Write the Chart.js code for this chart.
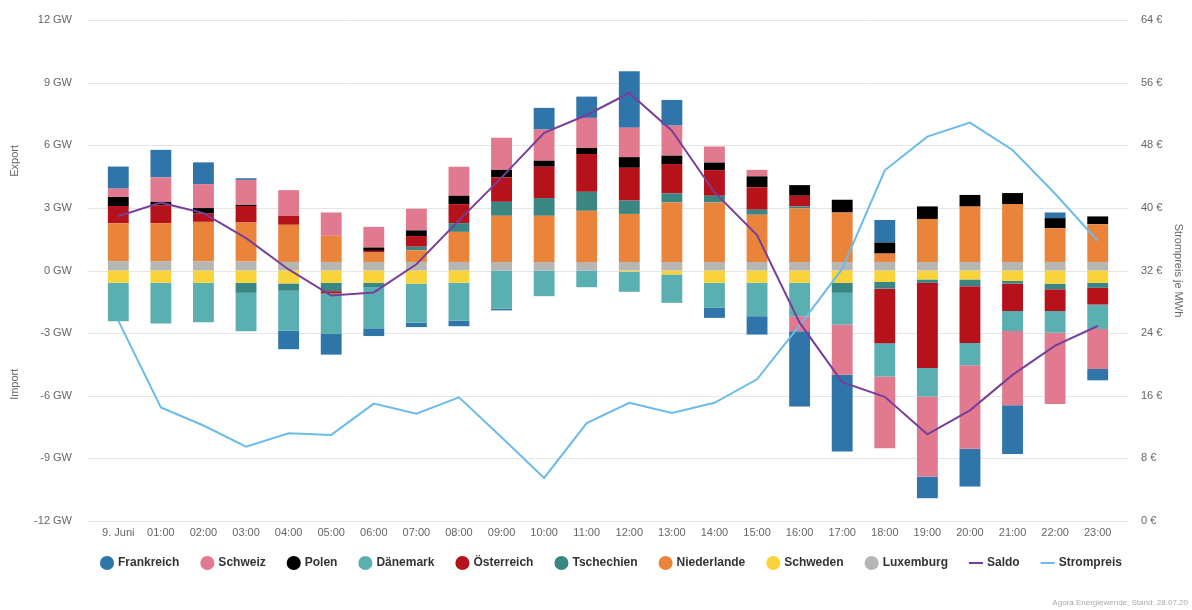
<!DOCTYPE html>
<html><head><meta charset="utf-8">
<script src="https://cdn.jsdelivr.net/npm/chart.js@4/dist/chart.umd.min.js"></script>
<style>html,body{margin:0;padding:0;background:#fff}#wrap{position:relative;width:1192px;height:610px}</style>
</head><body><div id="wrap"><canvas id="c" width="1192" height="610"></canvas></div>
<script>
const categories = ['9. Juni','01:00','02:00','03:00','04:00','05:00','06:00','07:00','08:00','09:00','10:00','11:00','12:00','13:00','14:00','15:00','16:00','17:00','18:00','19:00','20:00','21:00','22:00','23:00'];

const frankreich  = [1.06,1.32,1.04,0.08,-0.88,-0.99,-0.37,-0.21,-0.27,-0.08,1.04,1.02,2.7,1.23,-0.48,-0.88,-3.6,-3.68,1.08,-1.04,-1.81,-2.34,0.27,-0.54];
const schweiz     = [0.4,1.17,1.15,1.2,1.23,1.12,0.99,1.04,1.39,1.54,1.49,1.44,1.41,1.44,0.77,0.31,-0.72,-2.4,-3.44,-3.84,-4.0,-3.55,-3.41,-1.92];
const polen       = [0.43,0.16,0.26,0.05,0,0,0.16,0.27,0.4,0.36,0.29,0.29,0.51,0.4,0.36,0.53,0.51,0.61,0.53,0.6,0.56,0.53,0.48,0.37];
const daenemark   = [-1.84,-1.95,-1.89,-1.84,-1.92,-1.94,-1.98,-1.87,-1.81,-1.83,-1.23,-0.8,-0.96,-1.36,-1.2,-1.6,-1.6,-1.52,-1.6,-1.36,-1.07,-0.96,-1.04,-1.17];
const oesterreich = [0.83,0.86,0.4,0.79,0.43,-0.11,0.08,0.51,0.91,1.17,1.5,1.81,1.57,1.41,1.23,1.07,0.51,0,-2.61,-4.08,-2.72,-1.31,-1.04,-0.8];
const tschechien  = [0,0,0,-0.48,-0.35,-0.4,-0.2,0.17,0.42,0.67,0.85,0.91,0.64,0.43,0.32,0.24,0.1,-0.48,-0.32,-0.16,-0.32,-0.13,-0.27,-0.24];
const niederlande = [1.81,1.82,1.9,1.87,1.78,1.25,0.45,0.56,1.44,2.21,2.21,2.45,2.3,2.85,2.85,2.26,2.56,2.37,0.4,2.06,2.65,2.77,1.62,1.81];
const schweden    = [-0.59,-0.59,-0.59,-0.59,-0.62,-0.59,-0.59,-0.63,-0.59,0,0,0,-0.06,-0.19,-0.59,-0.59,-0.59,-0.59,-0.55,-0.43,-0.43,-0.5,-0.63,-0.59];
const luxemburg   = [0.45,0.45,0.43,0.43,0.41,0.41,0.41,0.41,0.41,0.41,0.41,0.41,0.41,0.41,0.41,0.41,0.41,0.41,0.41,0.41,0.41,0.41,0.41,0.41];
const saldo       = [2.6,3.25,2.75,1.55,0.05,-1.2,-1.05,0.3,2.4,4.45,6.6,7.45,8.5,6.7,3.75,1.7,-2.5,-5.35,-6.05,-7.85,-6.7,-5.0,-3.6,-2.66];
const strompreis  = [25.6,14.5,12.2,9.5,11.2,11.0,15.0,13.7,15.8,10.7,5.5,12.5,15.1,13.8,15.1,18.1,25.0,32.2,44.8,49.1,50.9,47.4,41.8,35.8];

const gwTicks = [-12,-9,-6,-3,0,3,6,9,12];
const euroTicks = [0,8,16,24,32,40,48,56,64];

const FONT = '"Liberation Sans", Arial, Helvetica, sans-serif';
Chart.defaults.font.family = FONT;
Chart.defaults.color = '#666';

function bar(label, data, color, rank){
  return {type:'bar', label, data, backgroundColor:color, borderWidth:0, order:1, yAxisID:'y',
    barPercentage:0.49, categoryPercentage:1, pointStyle:'circle', legendRank:rank};
}
// stacking order: first dataset sits next to zero
const datasets = [
  bar('Luxemburg', luxemburg, '#b6b6b4', 8),
  bar('Schweden', schweden, '#f8d33a', 7),
  bar('Niederlande', niederlande, '#eb843b', 6),
  bar('Tschechien', tschechien, '#3a8683', 5),
  bar('Österreich', oesterreich, '#b5121b', 4),
  bar('Dänemark', daenemark, '#5aafb1', 3),
  bar('Polen', polen, '#000000', 2),
  bar('Schweiz', schweiz, '#e27a8f', 1),
  bar('Frankreich', frankreich, '#2f75aa', 0),
  {type:'line', label:'Saldo', data:saldo, borderColor:'#773f9a', backgroundColor:'#773f9a', borderWidth:2,
   pointRadius:0, pointStyle:'line', tension:0, yAxisID:'y', order:0, stack:'saldo', legendRank:9},
  {type:'line', label:'Strompreis', data:strompreis, borderColor:'#6cbbe8', backgroundColor:'#6cbbe8', borderWidth:2,
   pointRadius:0, pointStyle:'line', tension:0, yAxisID:'y2', order:0, legendRank:10}
];

const extras = {
  id:'extras',
  afterLayout(chart){
    const lg = chart.legend;
    if (lg) { lg.left += 17.5; lg.right += 17.5; lg.top -= 7; lg.bottom -= 7; }
  },
  beforeDatasetsDraw(chart){
    const {ctx, chartArea, scales:{y}} = chart;
    ctx.save();
    ctx.strokeStyle = '#e6e6e6'; ctx.lineWidth = 1;
    gwTicks.forEach(v => {
      const py = Math.round(y.getPixelForValue(v)) + 0.5;
      ctx.beginPath(); ctx.moveTo(chartArea.left - 10, py); ctx.lineTo(chartArea.right + 10, py); ctx.stroke();
    });
    ctx.restore();
  },
  afterDraw(chart){
    const {ctx, chartArea, scales:{y}} = chart;
    ctx.save();
    ctx.fillStyle = '#666';
    ctx.font = '11px ' + FONT;
    ctx.textAlign = 'center'; ctx.textBaseline = 'middle';
    const tl = (txt, x, yy, rot) => { ctx.save(); ctx.translate(x, yy); ctx.rotate(rot); ctx.fillText(txt, 0, 0); ctx.restore(); };
    tl('Export', 15, y.getPixelForValue(5.25), -Math.PI/2);
    tl('Import', 15, y.getPixelForValue(-5.45), -Math.PI/2);
    tl('Strompreis je MWh', 1178, (chartArea.top + chartArea.bottom)/2, Math.PI/2);
    ctx.fillStyle = '#aaa';
    ctx.font = '8px ' + FONT;
    ctx.textAlign = 'right';
    ctx.fillText('Agora Energiewende; Stand: 28.07.20', 1188, 603);
    ctx.restore();
  }
};

const fixV = (w) => (s) => { s.width = w; s.paddingTop = 0; s.paddingBottom = 0; };

new Chart(document.getElementById('c'), {
  data: {labels: categories, datasets},
  options: {
    responsive:false, animation:false, devicePixelRatio:1,
    layout:{padding:{left:0, right:3, top:20, bottom:24}},
    plugins:{
      tooltip:{enabled:false},
      legend:{position:'bottom',
        labels:{usePointStyle:true, boxWidth:10, boxHeight:10, padding:23, color:'#333',
          font:{size:12, weight:'bold', family:FONT},
          sort:(a,b,data)=> data.datasets[a.datasetIndex].legendRank - data.datasets[b.datasetIndex].legendRank}}
    },
    scales:{
      x:{stacked:true, grid:{display:false, drawTicks:false}, border:{display:false},
         ticks:{color:'#666', font:{size:11}, padding:5, maxRotation:0, autoSkip:false},
         afterFit:s=>{s.height = 20;}},
      y:{stacked:true, position:'left', min:-12, max:12,
         grid:{display:false, drawTicks:false}, border:{display:false},
         ticks:{stepSize:3, padding:25, color:'#666', font:{size:11}, callback:v=>v+' GW'},
         afterFit:fixV(97)},
      y2:{position:'right', min:0, max:64,
         grid:{display:false, drawTicks:false}, border:{display:false},
         ticks:{stepSize:8, padding:22, color:'#666', font:{size:11}, callback:v=>v+' €'},
         afterFit:fixV(70)}
    }
  },
  plugins:[extras]
});
</script>
</body></html>
